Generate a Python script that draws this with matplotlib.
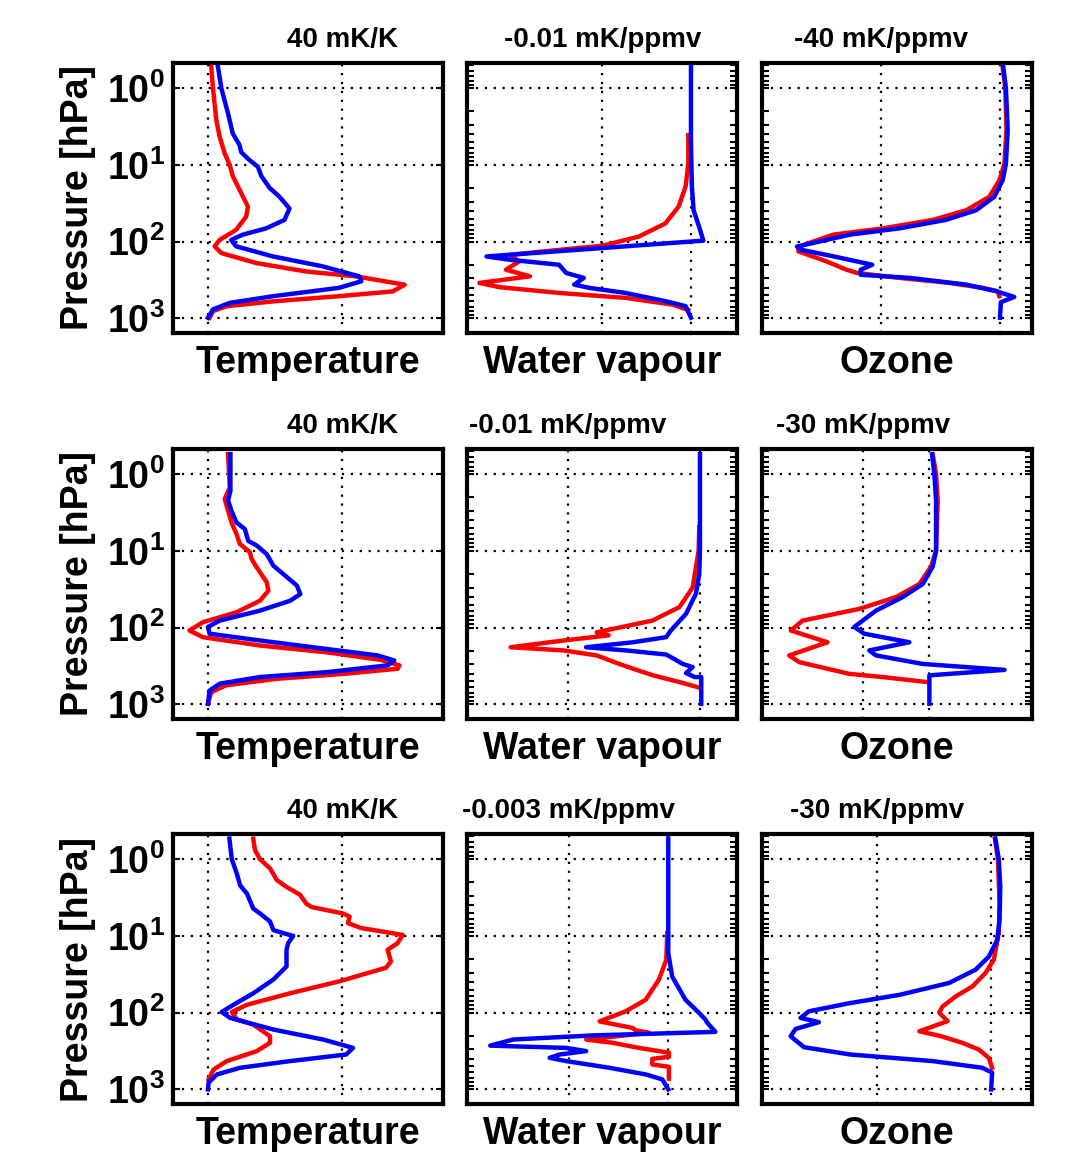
import numpy as np
import matplotlib
matplotlib.use('Agg')
import matplotlib.pyplot as plt
from matplotlib.ticker import LogLocator, FuncFormatter, NullFormatter, FixedLocator

plt.rcParams['font.family'] = ['Liberation Sans', 'DejaVu Sans']
plt.rcParams['font.weight'] = 'bold'
plt.rcParams['mathtext.fontset'] = 'custom'
plt.rcParams['mathtext.rm'] = 'Liberation Sans:bold'
plt.rcParams['mathtext.bf'] = 'Liberation Sans:bold'
plt.rcParams['mathtext.it'] = 'Liberation Sans:bold'

# ---- row 1 ----
# temperature (mK/K)
t1_red_p = [0.53, 1, 2.6, 4.3, 7.1, 10, 14, 21, 35, 47, 70, 95, 115, 141, 190, 245, 283, 364, 445, 514, 600, 695, 804, 980]
t1_red_x = [1.0, 1.5, 2.5, 3.5, 5, 6.5, 7.4, 9.4, 11.9, 11.4, 8.4, 3.5, 2.0, 4, 14.4, 29.3, 44, 58.6, 55, 39, 19.4, 5.5, 1.5, 0.5]
t1_blue_p = [0.53, 1, 2.15, 3.9, 5.5, 6.8, 8.3, 10.6, 14, 20, 26, 37, 52, 67, 81, 95, 115, 156, 209, 283, 328, 400, 514, 628, 763, 980]
t1_blue_x = [3.0, 4, 6, 7.4, 9.4, 9.9, 11.9, 14.9, 15.9, 18.4, 21.3, 24.3, 22.8, 17.4, 10.4, 6.9, 8.4, 19.4, 34, 45, 45.7, 39, 19.4, 6.5, 1.5, 0]
# water vapour (mK/ppmv)
w1_red_p = [4.1, 9.6, 19, 35, 58, 86, 113, 134, 149, 181, 232, 283, 345, 392, 466, 540, 661, 780]
w1_red_x = [-0.0003, -0.0003, -0.0006, -0.0014, -0.0029, -0.0059, -0.0100, -0.0167, -0.0205, -0.0194, -0.0209, -0.0182, -0.0239, -0.0216, -0.0149, -0.0074, -0.0021, -0.0003]
w1_blue_p = [0.53, 5, 19, 39, 63, 97, 156, 172, 200, 256, 297, 363, 400, 466, 596, 693, 980]
w1_blue_x = [0, 0, 0.0001, 0.0003, 0.0009, 0.0014, -0.0231, -0.0205, -0.0149, -0.0141, -0.0121, -0.0132, -0.0115, -0.0074, -0.0029, -0.0006, 0]
# ozone (mK/ppmv)
o1_red_p = [0.53, 1, 3.5, 9.6, 15.8, 26, 39, 52, 67, 81, 116, 134, 181, 232, 256, 297, 345, 400, 442, 514]
o1_red_x = [0.9, 1.8, 2.2, 1.5, -0.2, -3.6, -11.4, -22.6, -39.4, -56.2, -68, -68, -58.5, -51.8, -48.2, -33.8, -17, -5.8, -0.8, -0.2]
o1_blue_p = [0.53, 1, 3.5, 9.6, 15.8, 26, 39, 52, 67, 81, 116, 127, 156, 200, 232, 270, 297, 363, 442, 525, 615, 980]
o1_blue_x = [1.1, 2.0, 2.6, 2.0, 0.9, -1.9, -8.1, -18.2, -33.8, -50.6, -68.5, -67.3, -56, -43.1, -47, -47, -30.3, -11.4, -1.3, 4.8, 0.3, 0]

# ---- row 2 ----
t2_red_p = [0.55, 1, 1.5, 2.1, 3.0, 4.25, 6.0, 8.1, 10.4, 12.7, 16.3, 25.6, 33, 44.6, 63, 85, 109, 133, 171, 210, 263, 310, 343, 400, 464, 563, 691, 980]
t2_red_x = [6, 6.3, 6.5, 5, 6, 7, 8.5, 9.5, 12.5, 13, 14.5, 17.5, 18, 15.5, 8.5, -1.5, -5.5, -1.5, 15.5, 35.5, 51.5, 57, 56.5, 40.5, 20.5, 5.5, 1, 0]
t2_blue_p = [0.55, 1, 1.65, 2.2, 3.0, 4.25, 5.2, 7.4, 8.5, 11, 15.6, 21, 28.3, 36.5, 44.6, 60, 81, 98, 120, 147, 190, 230, 268, 310, 380, 440, 537, 660, 980]
t2_blue_x = [6.7, 6.7, 6.7, 6, 7, 8.5, 11, 12, 14.5, 17.5, 19.5, 23, 26.5, 27.5, 24.5, 15.5, 3.5, 0, 0.5, 15.5, 35.5, 50.5, 55.5, 53.5, 35.5, 15.5, 3.5, 0.5, 0]
w2_red_p = [4.9, 9.9, 30, 54, 81, 104, 115, 126, 147, 180, 198, 230, 297, 343, 418, 512, 604]
w2_red_x = [-0.00005, -0.0001, -0.00055, -0.00155, -0.0036, -0.0066, -0.0078, -0.0069, -0.0103, -0.0143, -0.0103, -0.0078, -0.0061, -0.00505, -0.00355, -0.00155, -0.00005]
w2_blue_p = [0.55, 10, 20, 36, 66, 109, 133, 155, 180, 198, 224, 256, 297, 327, 390, 440, 440, 980]
w2_blue_x = [0, 0, -0.00005, -0.0003, -0.00105, -0.0022, -0.00255, -0.00505, -0.0086, -0.0056, -0.00255, -0.00195, -0.0013, -0.00055, -0.00105, -0.0004, 0.0001, 0.0001]
o2_red_p = [0.55, 1, 2.2, 10, 16, 27, 40, 57, 81, 109, 155, 230, 281, 400, 440, 510]
o2_red_x = [1.5, 3.0, 3.75, 3.0, 0.75, -4.5, -15, -31.5, -57, -62.25, -45.75, -63, -58.5, -36, -21, -1.5]
o2_blue_p = [0.55, 1, 2.2, 10, 16, 27, 40, 60, 98, 120, 155, 198, 230, 297, 355, 418, 980]
o2_blue_x = [1.2, 2.25, 3.0, 3.0, 1.5, -3, -12, -24, -33.75, -29.25, -9, -27, -24, -3, 33.75, 0, 0]

# ---- row 3 ----
t3_red_p = [0.54, 0.76, 1, 1.32, 1.87, 2.3, 2.9, 3.8, 4.2, 5.1, 5.6, 6.8, 7.9, 9.7, 12.4, 15.2, 21.5, 26, 39, 56, 79, 98, 123, 143, 203, 247, 318, 428, 550, 741]
t3_red_x = [13.5, 14, 15.5, 18.5, 20.5, 23.4, 27.4, 29.3, 30.8, 40.2, 42.2, 41.7, 45.6, 58, 56.5, 53.5, 54.5, 53, 39.2, 24.4, 11.6, 7.1, 8.6, 13.5, 18.5, 18.5, 14.5, 5.6, 1.7, 0.2]
t3_blue_p = [0.54, 1, 1.54, 2.2, 2.8, 4.4, 5.3, 6.5, 8.4, 9.2, 10, 12.4, 15.2, 25, 37, 56, 79, 98, 117, 166, 224, 288, 351, 428, 523, 638, 813, 1000]
t3_blue_x = [6.4, 7.1, 8.6, 9.6, 11.6, 13.5, 16, 18.5, 19.5, 22.4, 25.4, 23.9, 23.4, 23.4, 19.5, 13.5, 7.6, 4.1, 6.6, 19.5, 34.3, 43.2, 41.2, 24.4, 9.6, 2.7, 0.2, 0]
w3_red_p = [9.2, 20.5, 37, 68, 96, 130, 158, 170, 183, 224, 247, 288, 333, 376, 400, 473, 508, 725]
w3_red_x = [-0.00003, -0.00006, -0.00028, -0.00068, -0.00128, -0.00207, -0.00108, -0.00098, -0.00058, -0.00247, -0.00168, -0.00088, 0.00002, 0.00002, -0.00048, -0.00048, 0.00002, 0.00002]
w3_blue_p = [0.54, 16.8, 34, 68, 100, 123, 135, 178, 198, 224, 269, 288, 317, 351, 388, 428, 523, 638, 741, 1000]
w3_blue_x = [0, 0, 0.00012, 0.00052, 0.00092, 0.00112, 0.00117, 0.00142, -0.00227, -0.00467, -0.00536, -0.00307, -0.00247, -0.00327, -0.00357, -0.00307, -0.00177, -0.00068, -0.00018, 0]
o3_red_p = [0.54, 1, 3.8, 9.2, 20.5, 30.5, 45.6, 61, 83, 100, 129, 175, 202, 248, 303, 389, 523]
o3_red_x = [1.0, 1.8, 2.2, 2.0, 0.7, -1.5, -4.9, -9.2, -12.7, -13.6, -11.4, -18.8, -13.2, -7.5, -3.2, -0.6, 0.26]
o3_blue_p = [0.54, 1, 2.3, 6.2, 11.3, 18.6, 27.6, 41, 58.5, 75, 96, 117, 133, 163, 203, 282, 351, 428, 523, 605, 1000]
o3_blue_x = [1.1, 2.0, 2.4, 2.2, 1.6, -0.6, -4.1, -11, -23.9, -36.9, -47.7, -49.9, -45.1, -51.2, -52.5, -49, -36.9, -15.3, -2.3, 0.26, 0]

# panel settings: (red p, red x, blue p, blue x, xlim, grid x, title value, title, xlabel)
panels = [
    [(t1_red_p, t1_red_x, t1_blue_p, t1_blue_x, (-10.4, 70), [0, 40], 40, '40 mK/K', 'Temperature'),
     (w1_red_p, w1_red_x, w1_blue_p, w1_blue_x, (-0.0253, 0.0052), [-0.01, 0], -0.01, '-0.01 mK/ppmv', 'Water vapour'),
     (o1_red_p, o1_red_x, o1_blue_p, o1_blue_x, (-80.3, 10.8), [-40, 0], -40, '-40 mK/ppmv', 'Ozone')],
    [(t2_red_p, t2_red_x, t2_blue_p, t2_blue_x, (-10.4, 70), [0, 40], 40, '40 mK/K', 'Temperature'),
     (w2_red_p, w2_red_x, w2_blue_p, w2_blue_x, (-0.0176, 0.0028), [-0.01, 0], -0.01, '-0.01 mK/ppmv', 'Water vapour'),
     (o2_red_p, o2_red_x, o2_blue_p, o2_blue_x, (-75.2, 46.1), [-30, 0], -30, '-30 mK/ppmv', 'Ozone')],
    [(t3_red_p, t3_red_x, t3_blue_p, t3_blue_x, (-10.4, 70), [0, 40], 40, '40 mK/K', 'Temperature'),
     (w3_red_p, w3_red_x, w3_blue_p, w3_blue_x, (-0.00606, 0.00207), [-0.003, 0], -0.003, '-0.003 mK/ppmv', 'Water vapour'),
     (o3_red_p, o3_red_x, o3_blue_p, o3_blue_x, (-60, 10.7), [-30, 0], -30, '-30 mK/ppmv', 'Ozone')],
]

W, H = 1082, 1170
fig = plt.figure(figsize=(W / 100, H / 100), dpi=100)

col_left = [173, 467, 762]
row_top = [63, 449, 834]
box = 270

for r in range(3):
    for c in range(3):
        rp, rx, bp, bx, xlim, gx, tval, title, xlabel = panels[r][c]
        ax = fig.add_axes([col_left[c] / W, 1 - (row_top[r] + box) / H, box / W, box / H])
        ax.plot(rx, rp, color='#ff0000', lw=3.2, zorder=3)
        ax.plot(bx, bp, color='#0000ff', lw=3.2, zorder=4)
        ax.set_yscale('log')
        ax.set_ylim(1550, 0.47)
        ax.set_xlim(*xlim)
        ax.yaxis.set_major_locator(FixedLocator([1, 10, 100, 1000]))
        ax.yaxis.set_minor_locator(LogLocator(base=10, subs=np.arange(2, 10)))
        ax.yaxis.set_minor_formatter(NullFormatter())
        ax.set_xticks(gx)
        ax.set_xticklabels([])
        ax.tick_params(axis='x', length=0)
        ax.tick_params(axis='y', which='both', direction='in', left=True, right=True,
                       length=5, width=1.5)
        ax.grid(True, which='major', color='black', linestyle=(0, (1, 3)), linewidth=1.6)
        for s in ax.spines.values():
            s.set_linewidth(3)
        if c == 0:
            ax.yaxis.set_major_formatter(FuncFormatter(lambda v, pos: r'$10^{%d}$' % round(np.log10(v))))
            ax.tick_params(axis='y', labelsize=27, pad=6)
            ax.set_ylabel('Pressure [hPa]', fontsize=27, fontweight='bold', labelpad=8)
        else:
            ax.set_yticklabels([])
        ax.set_xlabel(xlabel, fontsize=27, fontweight='bold', labelpad=5)
        ax.annotate(title, xy=(tval, 1), xycoords=('data', 'axes fraction'),
                    xytext=(0, 7), textcoords='offset points', ha='center', va='bottom',
                    fontsize=20, fontweight='bold')

fig.savefig('out.png', dpi=100)
